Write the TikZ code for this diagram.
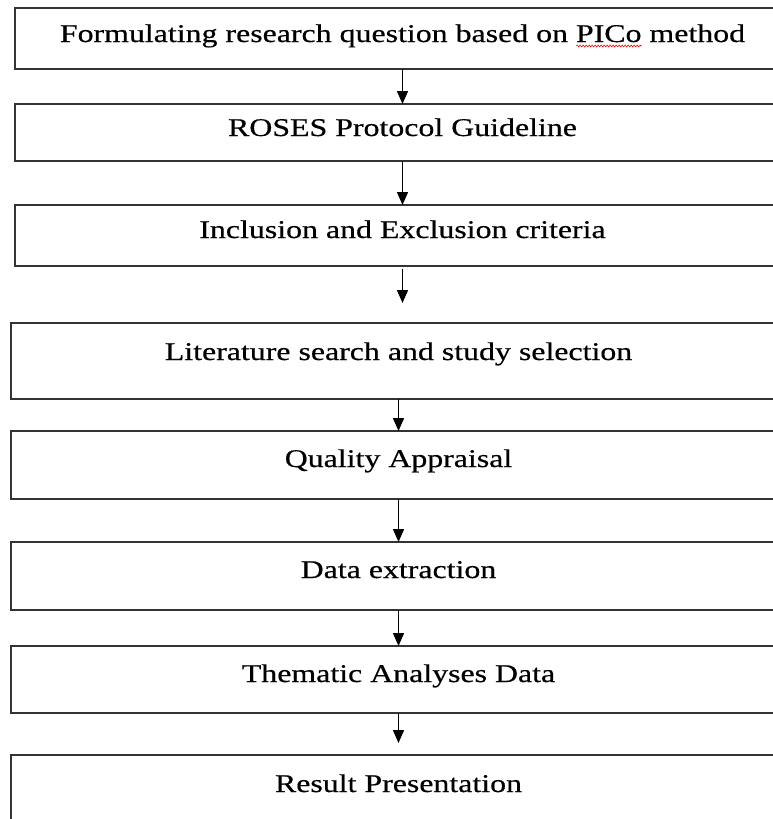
\documentclass[tikz,border=0pt]{standalone}
\usepackage{fontspec}
\setmainfont{Liberation Serif}[FakeStretch=1.25, FakeBold=0.5]
\usetikzlibrary{positioning, arrows.meta, decorations.pathmorphing}
\newlength{\MisWidth}
\newcommand{\Misspelt}[1]{\settowidth{\MisWidth}{#1}%
  \rlap{\tikz[baseline=0pt]\draw[red, line width=0.6pt, decorate,
    decoration={snake, amplitude=0.9pt, segment length=3pt}] (0pt,-4pt) -- (\MisWidth,-4pt);}#1}
\tikzset{
    stage/.style 2 args={draw=black!80, line width=1.6pt, inner sep=0pt, outer sep=0pt,
      minimum width=775pt, text height=#1, text depth=#2,
      font=\fontsize{25.5}{30}\selectfont},
    flow/.style={draw=black, line width=1.5pt, -{Triangle[length=13pt, width=11pt]}},
}

\begin{document}
\begin{tikzpicture}[x=1pt, y=-1pt]
    \useasboundingbox (0,0) rectangle (773,819);

    \node[stage={34pt}{27pt}, anchor=north] (s1) at (402.5,8)
      {Formulating research question based on \Misspelt{PICo} method};
    \node[stage={32pt}{25pt}, below=35pt of s1] (s2) {ROSES Protocol Guideline};
    \node[stage={33pt}{28pt}, below=44pt of s2] (s3) {Inclusion and Exclusion criteria};
    \node[stage={37pt}{39pt}, below=57pt of s3, xshift=-4pt] (s4) {Literature search and study selection};
    \node[stage={36pt}{32pt}, below=32pt of s4] (s5) {Quality Appraisal};
    \node[stage={36pt}{32pt}, below=43pt of s5] (s6) {Data extraction};
    \node[stage={36pt}{31pt}, below=36pt of s6] (s7) {Thematic Analyses Data};
    \node[stage={37pt}{43pt}, below=42pt of s7] (s8) {Result Presentation};

    \draw[flow] (s1) -- (s2);
    \draw[flow] (s2) -- (s3);
    \draw[flow, shorten <=3pt, shorten >=20pt] (s3.south) -- (s3.south |- s4.north);
    \draw[flow] (s4) -- (s5);
    \draw[flow] (s5) -- (s6);
    \draw[flow] (s6) -- (s7);
    \draw[flow, shorten >=12pt] (s7) -- (s8);

\end{tikzpicture}
\end{document}
